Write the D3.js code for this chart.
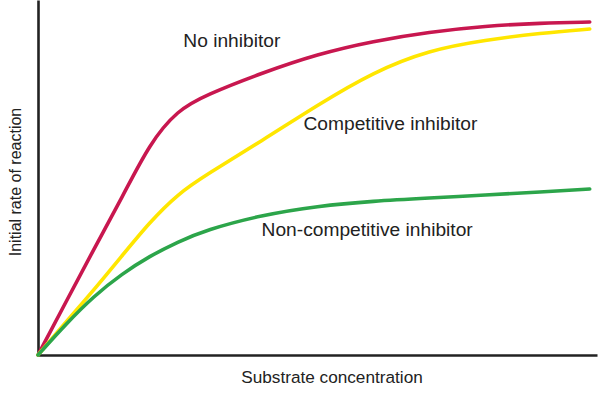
<!DOCTYPE html>
<html>
<head>
<meta charset="utf-8">
<script src="https://cdn.jsdelivr.net/npm/d3@7"></script>
<style>
  html, body { margin: 0; padding: 0; background: #fff; }
  svg { display: block; }
  text { font-family: "Liberation Sans", Arial, Helvetica, sans-serif; fill: #222; }
</style>
</head>
<body>
<svg id="chart" width="611" height="394"></svg>
<script>
// Substrate concentration (arbitrary units)
const concentration = [0, 0.5, 1, 1.5, 2, 2.5, 3, 4, 5, 6, 7, 8, 9, 9.87];
// Initial rate of reaction (arbitrary units, % of axis)
const noInhibitor = [0, 14.93, 29.86, 44.23, 59.72, 69.01, 73.24, 79.44, 84.79, 88.45, 90.99, 92.68, 93.52, 93.80];
const competitive = [0, 9.30, 18.31, 27.89, 37.46, 45.35, 50.70, 60.28, 70.42, 79.72, 85.92, 88.73, 90.70, 91.83];
const nonCompetitive = [0, 8.73, 16.62, 22.82, 27.89, 31.83, 35.21, 39.44, 41.97, 43.38, 44.23, 45.07, 45.92, 46.76];

const seriesNames = ["No inhibitor", "Competitive inhibitor", "Non-competitive inhibitor"];
const seriesValues = [noInhibitor, competitive, nonCompetitive];
const seriesColors = ["#c8174f", "#ffe600", "#2ca54a"];
// label anchor positions in data units [x, y]
const labelPos = [[2.6, 86.8], [4.75, 63.4], [4.0, 33.5]];

const xTitle = "Substrate concentration";
const yTitle = "Initial rate of reaction";

const svg = d3.select("#chart");
const x = d3.scaleLinear().domain([0, 10]).range([38, 597]);
const y = d3.scaleLinear().domain([0, 100]).range([355, 0]);

// axes (no ticks)
const gx = svg.append("g").attr("transform", `translate(0,${y(0)})`)
  .call(d3.axisBottom(x).ticks(0).tickSizeOuter(0));
const gy = svg.append("g").attr("transform", `translate(${x(0)},0)`)
  .call(d3.axisLeft(y).ticks(0).tickSizeOuter(0));
[gx, gy].forEach(g => g.select(".domain").attr("stroke", "#222").attr("stroke-width", 2.6));

const line = d3.line()
  .x((d, i) => x(concentration[i]))
  .y(d => y(d))
  .curve(d3.curveBasis);

seriesValues.forEach((vals, k) => {
  svg.append("path")
    .datum(vals)
    .attr("fill", "none")
    .attr("stroke", seriesColors[k])
    .attr("stroke-width", 3.6)
    .attr("stroke-linecap", "round")
    .attr("d", line);
});

seriesNames.forEach((name, k) => {
  svg.append("text")
    .attr("x", x(labelPos[k][0]))
    .attr("y", y(labelPos[k][1]))
    .attr("font-size", 19.2)
    .text(name);
});

svg.append("text")
  .attr("x", 332).attr("y", 383)
  .attr("text-anchor", "middle")
  .attr("font-size", 17.2)
  .text(xTitle);

svg.append("text")
  .attr("transform", "translate(21,182) rotate(-90)")
  .attr("text-anchor", "middle")
  .attr("font-size", 16)
  .text(yTitle);
</script>
</body>
</html>
